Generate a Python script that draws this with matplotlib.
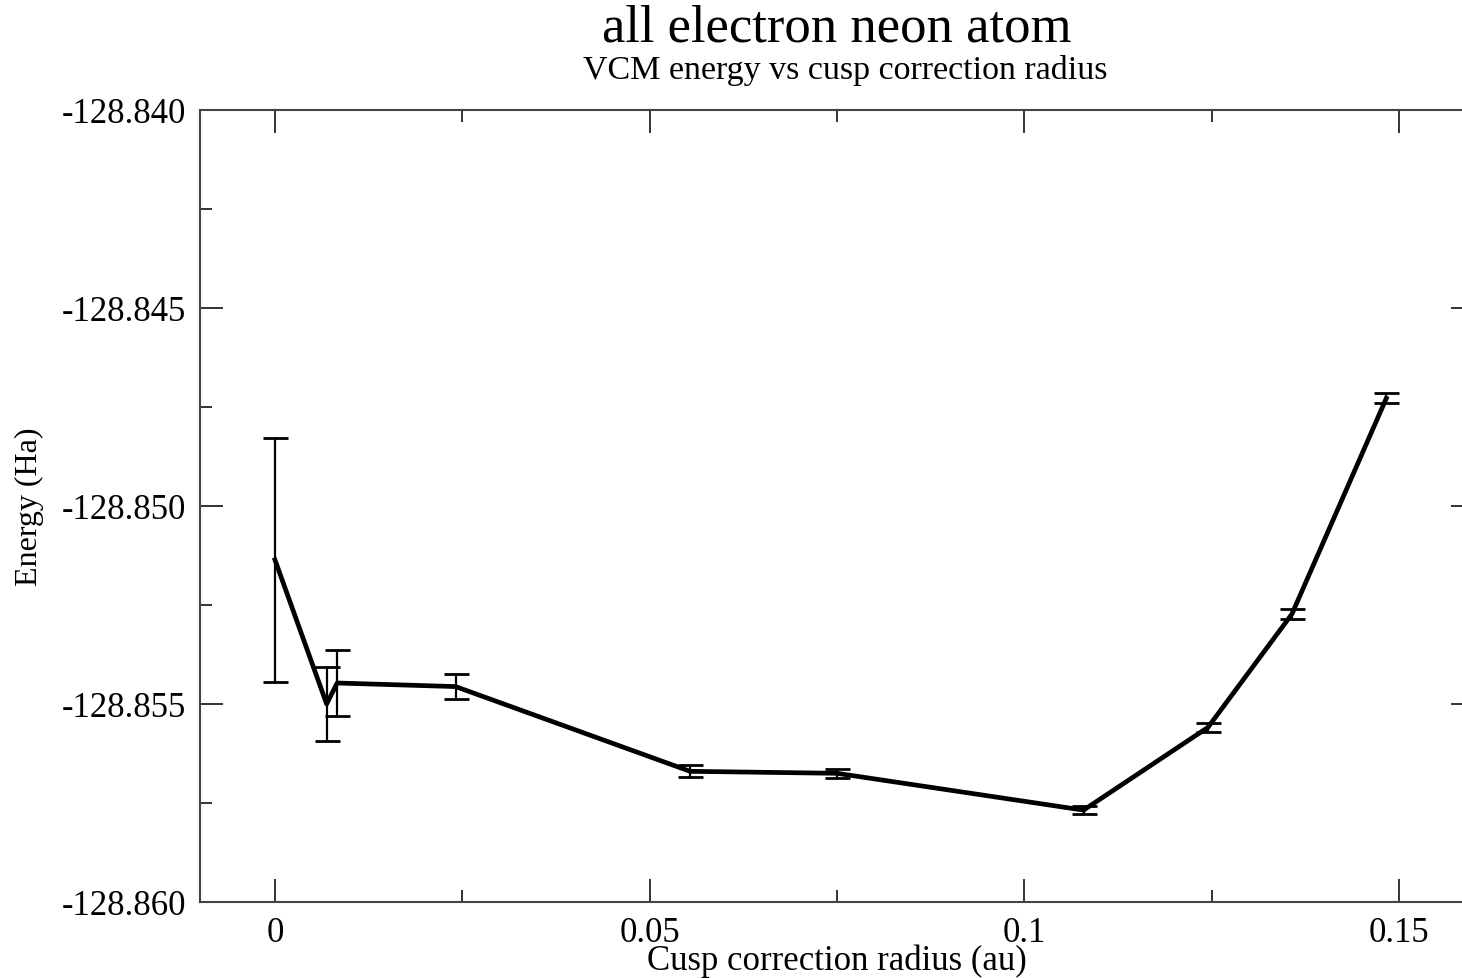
import matplotlib
matplotlib.use("Agg")
import matplotlib.pyplot as plt
from matplotlib.ticker import MultipleLocator, FixedFormatter, FixedLocator

radius = [0.0, 0.0069, 0.0083, 0.0241, 0.0554, 0.0750, 0.1079, 0.1245, 0.1357, 0.1483]
energy = [-128.85136, -128.85500, -128.85447, -128.85456, -128.85670, -128.85675,
          -128.85768, -128.85559, -128.85273, -128.84728]
error = [0.00308, 0.00094, 0.00084, 0.00032, 0.00015, 0.00012, 0.00010, 0.00011, 0.00013, 0.00013]

xticks = [0, 0.05, 0.1, 0.15]
xtick_labels = ["0", "0.05", "0.1", "0.15"]
yticks = [-128.860, -128.855, -128.850, -128.845, -128.840]
ytick_labels = ["-128.860", "-128.855", "-128.850", "-128.845", "-128.840"]

plt.rcParams['font.family'] = ['Liberation Serif', 'DejaVu Serif']

W, H = 1462, 979
fig = plt.figure(figsize=(W / 100, H / 100), dpi=100)
left, right, top, bottom = 200, 1474, 111, 903
ax = fig.add_axes([left / W, (H - bottom) / H, (right - left) / W, (bottom - top) / H])

ax.errorbar(radius, energy, yerr=error, color='black', linewidth=3.4,
            elinewidth=1.6, capsize=9, capthick=2.0, ecolor='black')

ax.set_xlim(-0.01, 0.16)
ax.set_ylim(-128.860, -128.840)
ax.xaxis.set_major_locator(FixedLocator(xticks))
ax.xaxis.set_major_formatter(FixedFormatter(xtick_labels))
ax.xaxis.set_minor_locator(MultipleLocator(0.025))
ax.yaxis.set_major_locator(FixedLocator(yticks))
ax.yaxis.set_major_formatter(FixedFormatter(ytick_labels))
ax.yaxis.set_minor_locator(MultipleLocator(0.0025))

ax.tick_params(which='both', direction='in', top=True, right=True, color='#333333', width=1.4)
ax.tick_params(which='major', length=16.5, labelsize=25, pad=10)
ax.tick_params(which='minor', length=8.5)
for s in ax.spines.values():
    s.set_color('#444444')
    s.set_linewidth(1.5)

fig.text(837 / W, 1 - 28 / H, "all electron neon atom", ha='center', va='center', fontsize=38)
fig.text(845 / W, 1 - 70 / H, "VCM energy vs cusp correction radius", ha='center', va='center', fontsize=24.5)
fig.text(837 / W, 1 - 961 / H, "Cusp correction radius (au)", ha='center', va='center', fontsize=25)
fig.text(29 / W, 1 - 507 / H, "Energy (Ha)", ha='center', va='center', rotation=90, fontsize=23)

fig.savefig("out.png", dpi=100)
